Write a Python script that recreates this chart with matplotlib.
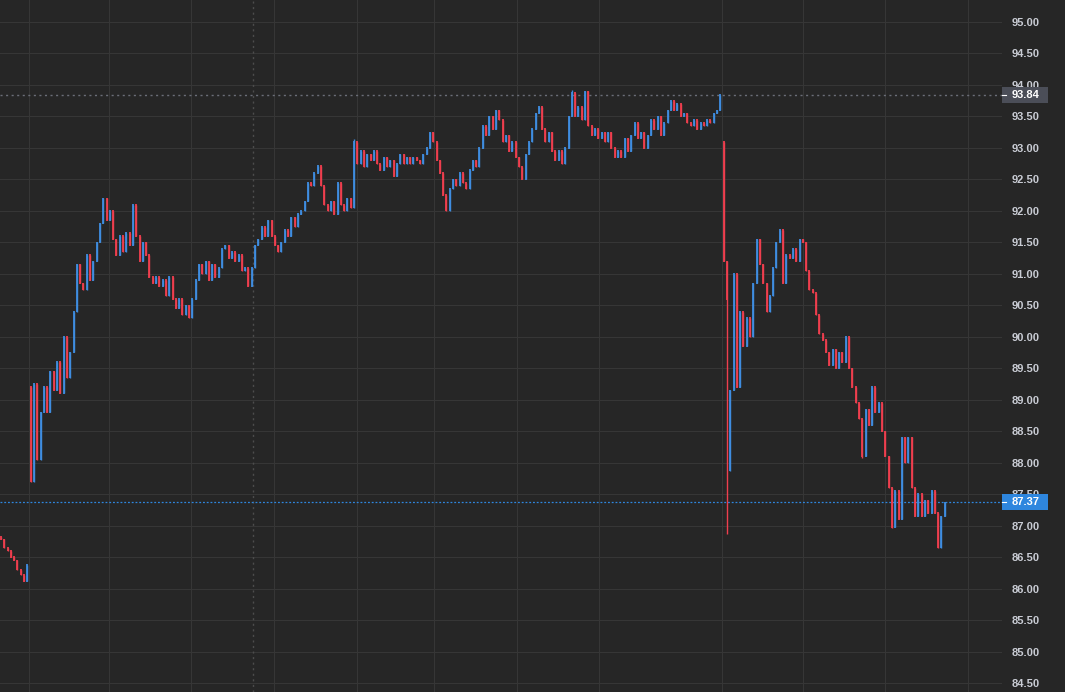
import matplotlib.pyplot as plt
import numpy as np
from matplotlib.patches import Rectangle
from matplotlib.transforms import blended_transform_factory

# closes of each bar (one bar ~ 3.3 px)
closes = [
    # previous session tail
    86.78, 86.65, 86.60, 86.50, 86.45, 86.30, 86.22, 86.12, 86.38,
    # session 2
    87.70, 89.25, 88.05, 88.80, 89.20, 88.80, 89.45, 89.15, 89.60, 89.10,
    90.00, 89.35, 89.75, 90.40, 91.15, 90.85, 90.75, 91.30, 90.90, 91.20,
    91.50, 91.80, 92.20, 91.85, 92.00, 91.55, 91.30, 91.60, 91.35, 91.65,
    91.45, 92.10, 91.60, 91.20, 91.50, 91.30, 90.95, 90.85, 90.95, 90.80,
    90.90, 90.65, 90.95, 90.60, 90.45, 90.60, 90.35, 90.50, 90.30, 90.60,
    90.90, 91.15, 91.00, 91.20, 90.90, 91.15, 90.95, 91.10, 91.40, 91.45,
    91.25, 91.35, 91.20, 91.30, 91.05, 91.10, 90.80, 91.10, 91.45, 91.55,
    91.75, 91.60, 91.85, 91.60, 91.45, 91.35, 91.50, 91.70, 91.60, 91.90,
    91.75, 91.95, 92.00, 92.15, 92.45, 92.40, 92.60, 92.72, 92.40, 92.10,
    92.00, 92.15, 91.95, 92.45, 92.10, 92.00, 92.20, 92.05, 93.10, 92.75,
    92.95, 92.70, 92.90, 92.80, 92.95, 92.75, 92.65, 92.85, 92.70, 92.80,
    92.55, 92.75, 92.90, 92.75, 92.85, 92.75, 92.85, 92.80, 92.75, 92.90,
    93.00, 93.25, 93.10, 92.80, 92.60, 92.25, 92.00, 92.35, 92.50, 92.40,
    92.60, 92.45, 92.35, 92.65, 92.80, 92.70, 93.00, 93.35, 93.20, 93.50,
    93.30, 93.60, 93.45, 93.10, 93.20, 92.95, 93.10, 92.85, 92.70, 92.50,
    92.90, 93.10, 93.30, 93.55, 93.65, 93.30, 93.10, 93.25, 92.95, 92.80,
    92.95, 92.75, 93.00, 93.50, 93.88, 93.50, 93.65, 93.45, 93.90, 93.35,
    93.20, 93.30, 93.15, 93.25, 93.10, 93.25, 93.00, 92.85, 92.95, 92.85,
    93.15, 92.95, 93.20, 93.40, 93.15, 93.25, 93.00, 93.20, 93.45, 93.30,
    93.50, 93.20, 93.40, 93.60, 93.75, 93.60, 93.70, 93.50, 93.55, 93.40,
    93.35, 93.45, 93.30, 93.40, 93.35, 93.45, 93.40, 93.55, 93.60, 93.84,
    # session 3
    91.20, 90.60, 89.15, 91.00, 89.20, 90.40, 89.85, 90.30, 90.00, 90.85,
    91.55, 91.15, 90.85, 90.40, 90.65, 91.10, 91.50, 91.70, 90.85, 91.30,
    91.25, 91.40, 91.20, 91.55, 91.50, 91.05, 90.75, 90.70, 90.35, 90.05,
    89.95, 89.75, 89.55, 89.80, 89.50, 89.75, 89.60, 90.00, 89.50, 89.20,
    88.95, 88.70, 88.10, 88.85, 88.60, 89.20, 88.80, 88.95, 88.50, 88.10,
    87.60, 86.97, 87.55, 87.10, 88.40, 88.00, 88.40, 87.60, 87.15, 87.50,
    87.15, 87.40, 87.20, 87.55, 87.20, 86.65, 87.15, 87.37,
]
# opens where a bar does not open at the previous close (session gaps)
gap_opens = {0: 86.82, 9: 89.20, 219: 93.10, 221: 87.87}
# long wicks
wick_lows = {220: 86.86, 222: 89.15, 261: 88.07, 270: 86.96}
wick_highs = {219: 93.10, 107: 93.14, 173: 93.92}

price_ticks = np.arange(84.5, 95.01, 0.5)
vgrid = [8.5, 32.7, 57.5, 82.7, 107.9, 131.2, 156.4, 181.2, 218.5, 243.0, 267.9, 293.0]
crosshair_x = 76.4
crosshair_price = 93.84
last_price = 87.37

bg = '#262626'
grid_c = '#363636'
up_c = '#3f8de0'
down_c = '#ef3e4e'

plt.rcParams['font.family'] = ['Liberation Sans', 'DejaVu Sans']

x = np.arange(len(closes))
c = np.array(closes)
o = np.r_[c[0], c[:-1]]
for k, v in gap_opens.items():
    o[k] = v
hi = np.maximum(o, c)
lo = np.minimum(o, c)
for k, v in wick_lows.items():
    lo[k] = min(lo[k], v)
for k, v in wick_highs.items():
    hi[k] = max(hi[k], v)
colors = np.where(c >= o, up_c, down_c)

fig = plt.figure(figsize=(10.65, 6.92), dpi=100, facecolor=bg)
ax = fig.add_axes([0, 0, 1002 / 1065, 1])
ax.set_facecolor(bg)

ax.set_xlim(-0.3, 1002 / 3.3 - 0.3)
ax.set_ylim(95 - 670 / 62.95, 95 + 22 / 62.95)

for s in ax.spines.values():
    s.set_visible(False)

ax.set_yticks(price_ticks)
ax.set_yticklabels(['%.2f' % t for t in price_ticks], fontweight='bold')
ax.yaxis.tick_right()
ax.tick_params(axis='y', length=0, pad=7, labelsize=8, labelcolor='#c9ccd4')
ax.set_xticks([])
ax.grid(axis='y', color=grid_c, lw=0.8)
for gx in vgrid:
    ax.axvline(gx, color=grid_c, lw=0.8, zorder=0.5)
ax.set_axisbelow(True)

# candles
ax.vlines(x, lo, hi, colors=colors, lw=1.0, zorder=3)
ax.vlines(x, np.minimum(o, c) - 0.01, np.maximum(o, c) + 0.01, colors=colors, lw=1.3, zorder=3)

# crosshair + last price lines
ax.axvline(crosshair_x, color='#4d4d4d', lw=1, ls=(0, (1.5, 2.5)), zorder=2)
ax.axhline(crosshair_price, color='#6b6e78', lw=1, ls=(0, (1.5, 2.5)), zorder=2)
ax.axhline(last_price, color='#2e86de', lw=0.9, ls=(0, (1.5, 1.5)), zorder=2)

tr = blended_transform_factory(ax.transAxes, ax.transData)
for p, fc in [(crosshair_price, '#4b4e58'), (last_price, '#2e86de')]:
    h = 16 / 62.95
    ax.add_patch(Rectangle((1.0, p - h / 2), 46 / 1002, h, transform=tr,
                           facecolor=fc, edgecolor='none', clip_on=False, zorder=5))
    ax.plot([1.0, 1.0 + 4 / 1002], [p, p], transform=tr, color='white', lw=0.8,
            clip_on=False, zorder=6)
    ax.text(1.0 + 10 / 1002, p, '%.2f' % p, transform=tr, color='white', fontsize=8,
            fontweight='bold', ha='left', va='center', clip_on=False, zorder=6)

fig.savefig('out.png', dpi=100, facecolor=bg)
